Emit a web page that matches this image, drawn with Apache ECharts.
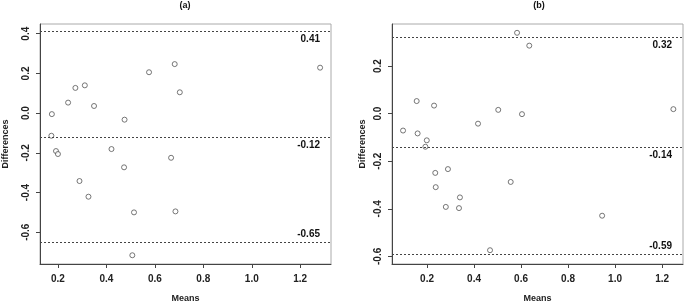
<!DOCTYPE html>
<html>
<head>
<meta charset="utf-8">
<script src="https://cdn.jsdelivr.net/npm/echarts@6/dist/echarts.min.js"></script>
<style>
  html, body { margin: 0; padding: 0; background: #fff; }
  #chart { width: 685px; height: 308px; }
</style>
</head>
<body>
<div id="chart"></div>
<script>
// panel (a)
const meansA = [0.175, 0.173, 0.242, 0.272, 0.311, 0.349, 0.475, 0.576, 0.682, 0.703, 1.282,
                0.192, 0.2, 0.421, 0.667, 0.473, 0.289, 0.326, 0.514, 0.685, 0.507];
const diffsA = [-0.005, -0.114, 0.053, 0.127, 0.14, 0.036, -0.033, 0.206, 0.247, 0.105, 0.229,
                -0.191, -0.206, -0.181, -0.225, -0.273, -0.342, -0.421, -0.5, -0.495, -0.716];
const limitsA = [0.41, -0.12, -0.65];

// panel (b)
const meansB = [0.583, 0.635, 0.156, 0.230, 0.503, 0.604, 1.248, 0.098, 0.160, 0.417, 0.199,
                0.193, 0.235, 0.289, 0.237, 0.556, 0.340, 0.280, 0.336, 0.945, 0.468];
const diffsB = [0.34, 0.286, 0.053, 0.034, 0.016, -0.002, 0.019, -0.071, -0.083, -0.042, -0.112,
                -0.139, -0.249, -0.233, -0.309, -0.287, -0.352, -0.392, -0.397, -0.429, -0.574];
const limitsB = [0.32, -0.14, -0.59];

const xTicks = [0.2, 0.4, 0.6, 0.8, 1.0, 1.2];
const yTicksA = [-0.6, -0.4, -0.2, 0.0, 0.2, 0.4];
const yTicksB = [-0.6, -0.4, -0.2, 0.0, 0.2];

// axis ranges
const xRangeA = [0.126, 1.327], yRangeA = [-0.76, 0.449];
const xRangeB = [0.051, 1.289], yRangeB = [-0.632, 0.377];

const font = 'Liberation Sans, Arial, sans-serif';
const axisColor = '#444';

function xAxis(grid, range) {
  return {
    type: 'value', gridIndex: grid, min: range[0], max: range[1],
    name: 'Means', nameLocation: 'middle', nameGap: 30,
    nameTextStyle: { fontFamily: font, fontSize: 9, fontWeight: 'bold', color: '#222' },
    splitLine: { show: false },
    axisLine: { show: true, onZero: false, lineStyle: { color: axisColor } },
    axisTick: { show: true, length: 4, customValues: xTicks, lineStyle: { color: axisColor } },
    axisLabel: {
      customValues: xTicks, margin: 10,
      fontFamily: font, fontSize: 10, fontWeight: 'bold', color: '#222',
      formatter: v => v.toFixed(1)
    }
  };
}

function yAxis(grid, range, ticks, gap) {
  return {
    type: 'value', gridIndex: grid, min: range[0], max: range[1],
    name: 'Differences', nameLocation: 'middle', nameGap: gap,
    nameTextStyle: { fontFamily: font, fontSize: 9, fontWeight: 'bold', color: '#222' },
    splitLine: { show: false },
    axisLine: { show: true, onZero: false, lineStyle: { color: axisColor } },
    axisTick: { show: true, length: 4, customValues: ticks, lineStyle: { color: axisColor } },
    axisLabel: {
      customValues: ticks, margin: 9, rotate: 90,
      fontFamily: font, fontSize: 10, fontWeight: 'bold', color: '#222',
      formatter: v => v.toFixed(1)
    }
  };
}

function limitLines(limits) {
  return {
    silent: true, symbol: 'none',
    lineStyle: { type: [2, 2], color: '#444', width: 1 },
    data: limits.map((v, i) => ({
      yAxis: v,
      label: {
        show: true, position: i === limits.length - 1 ? 'insideEndTop' : 'insideEndBottom',
        distance: [11, 3],
        formatter: v.toFixed(2),
        fontFamily: font, fontSize: 10, fontWeight: 'bold', color: '#111'
      }
    }))
  };
}

function scatter(idx, xs, ys, limits) {
  return {
    type: 'scatter', xAxisIndex: idx, yAxisIndex: idx,
    symbol: 'circle', symbolSize: 5,
    itemStyle: { color: '#fff', borderColor: '#555', borderWidth: 1 },
    data: xs.map((x, i) => [x, ys[i]]),
    markLine: limitLines(limits)
  };
}

const chart = echarts.init(document.getElementById('chart'));
chart.setOption({
  animation: false,
  backgroundColor: '#fff',
  title: [
    { text: '(a)', left: 185, top: 1, padding: 0, textAlign: 'center',
      textStyle: { fontFamily: font, fontSize: 9, fontWeight: 'bold', color: '#111' } },
    { text: '(b)', left: 539, top: 1, padding: 0, textAlign: 'center',
      textStyle: { fontFamily: font, fontSize: 9, fontWeight: 'bold', color: '#111' } }
  ],
  grid: [
    { left: 38, top: 24, width: 293, height: 245, show: true, borderColor: '#aaa', borderWidth: 1 },
    { left: 392, top: 24, width: 291, height: 245, show: true, borderColor: '#aaa', borderWidth: 1 }
  ],
  xAxis: [xAxis(0, xRangeA), xAxis(1, xRangeB)],
  yAxis: [yAxis(0, yRangeA, yTicksA, 30), yAxis(1, yRangeB, yTicksB, 25)],
  series: [
    scatter(0, meansA, diffsA, limitsA),
    scatter(1, meansB, diffsB, limitsB)
  ]
});
</script>
</body>
</html>
